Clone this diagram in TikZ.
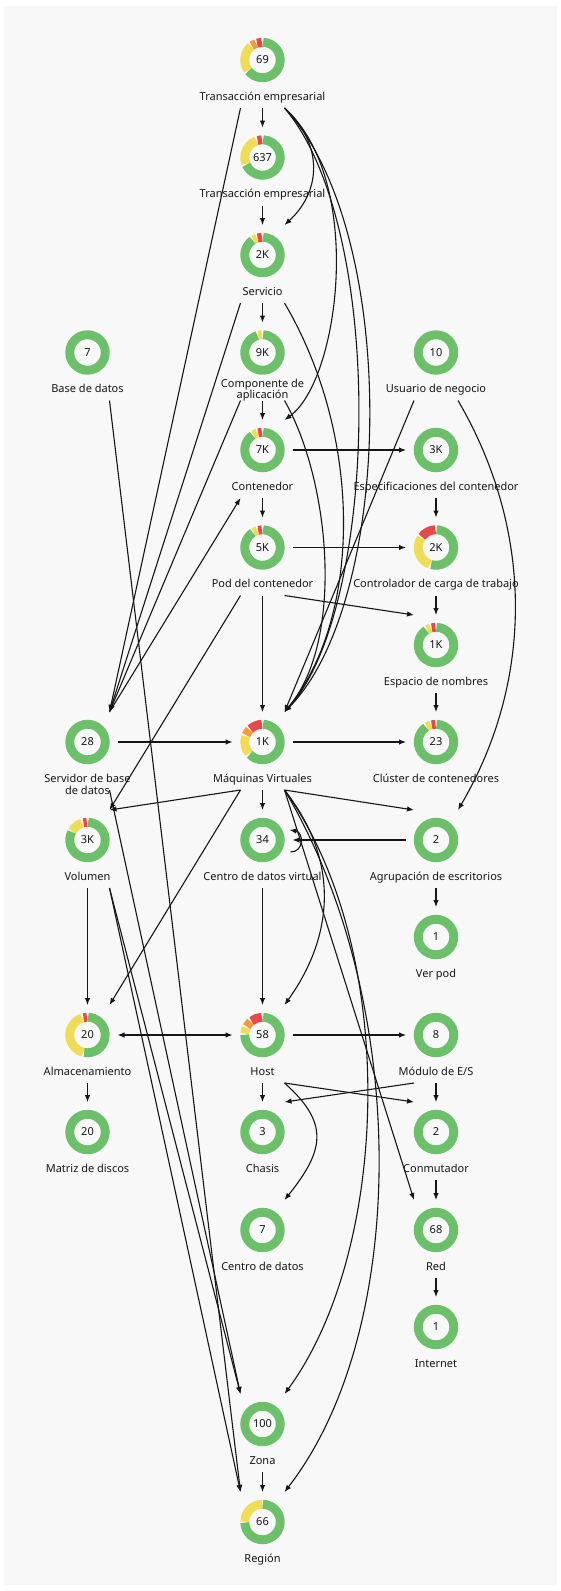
\documentclass[tikz,border=0pt]{standalone}
\usepackage{fontspec}
\setmainfont{Noto Sans}
\usetikzlibrary{arrows.meta}

\definecolor{cgreen}{HTML}{6DC06A}
\definecolor{cyellow}{HTML}{F1DC58}
\definecolor{corange}{HTML}{F59A3C}
\definecolor{cred}{HTML}{E8474B}
\definecolor{panel}{HTML}{F8F8F8}
\definecolor{ink}{HTML}{161616}

\tikzset{
  donut/.style={circle,minimum size=44pt,inner sep=0pt,font=\fontsize{11}{13}\selectfont,text=ink},
  lbl/.style={font=\fontsize{11}{11.5}\selectfont,align=center,anchor=base,inner sep=0pt,text=ink},
  ring/.style={line width=8.9pt},
  arr/.style={->,>={Latex[length=7pt,width=5.5pt]},line width=1.1pt,ink},
}

% one element: donut, label and the ports used by the edges
\newcommand{\donut}[6][]{%
  \node[donut] (#2) at (#3,-#4) {#5};
  \node[lbl,#1] (#2-l) at (#3,-#4-40) {#6};
  \coordinate (#2-n) at (#3,-#4+30);
  \coordinate (#2-nw) at (#3-22,-#4+30);
  \coordinate (#2-ne) at (#3+22,-#4+30);
  \coordinate (#2-s) at (#3,-#4-48);
  \coordinate (#2-sw) at (#3-22,-#4-48);
  \coordinate (#2-se) at (#3+22,-#4-48);
  \coordinate (#2-w) at (#3-30,-#4);
  \coordinate (#2-e) at (#3+30,-#4);
}
\newcommand{\full}[1]{\draw[ring,cgreen] (#1.center) circle[radius=17.75pt];}
\newcommand{\seg}[4]{\draw[ring,#2] (#1.center) ++(#3:17.75pt) arc[start angle=#3,end angle=#4,radius=17.75pt];}

\begin{document}
\begin{tikzpicture}[x=1pt,y=1pt]
  \useasboundingbox (0,0) rectangle (561,-1591);
  \fill[panel] (4,-6) rectangle (557,-1585);

  \donut{t1}{262.5}{60}{69}{Transacción empresarial}
  \donut{t2}{262.5}{157.5}{637}{Transacción empresarial}
  \donut{sv}{262.5}{255}{2K}{Servicio}
  \donut{bd}{87.5}{352.5}{7}{Base de datos}
  \donut[yshift=-6pt]{ca}{262.5}{352.5}{9K}{Componente de\\aplicación}
  \donut{un}{436}{352.5}{10}{Usuario de negocio}
  \donut{co}{262.5}{450}{7K}{Contenedor}
  \donut{ec}{436}{450}{3K}{Especificaciones del contenedor}
  \donut{po}{262.5}{547.5}{5K}{Pod del contenedor}
  \donut{cc}{436}{547.5}{2K}{Controlador de carga de trabajo}
  \donut{en}{436}{645}{1K}{Espacio de nombres}
  \donut[yshift=-12pt]{sb}{87.5}{742}{28}{Servidor de base\\de datos}
  \donut{mv}{262.5}{742}{1K}{Máquinas Virtuales}
  \donut{cl}{436}{742}{23}{Clúster de contenedores}
  \donut{vo}{87.5}{840}{3K}{Volumen}
  \donut{cd}{262.5}{840}{34}{Centro de datos virtual}
  \donut{ae}{436}{840}{2}{Agrupación de escritorios}
  \donut{vp}{436}{937}{1}{Ver pod}
  \donut{al}{87.5}{1035}{20}{Almacenamiento}
  \donut{ho}{262.5}{1035}{58}{Host}
  \donut{me}{436}{1035}{8}{Módulo de E/S}
  \donut{md}{87.5}{1132}{20}{Matriz de discos}
  \donut{ch}{262.5}{1132}{3}{Chasis}
  \donut{cm}{436}{1132}{2}{Conmutador}
  \donut{cdc}{262.5}{1230}{7}{Centro de datos}
  \donut{re}{436}{1230}{68}{Red}
  \donut{inet}{436}{1327}{1}{Internet}
  \donut{zo}{262.5}{1424}{100}{Zona}
  \donut{rg}{262.5}{1522}{66}{Región}

  % rings
  \seg{t1}{cred}{92}{108}\seg{t1}{corange}{111}{127}\seg{t1}{cyellow}{130}{215}\seg{t1}{cgreen}{218}{448}
  \seg{t2}{cred}{92}{106}\seg{t2}{cyellow}{110}{201}\seg{t2}{cgreen}{204}{448}
  \seg{sv}{cred}{92}{106}\seg{sv}{cyellow}{109}{121}\seg{sv}{cgreen}{124}{448}
  \seg{ca}{cyellow}{92}{104}\seg{ca}{cgreen}{107}{448}
  \seg{co}{cred}{92}{104}\seg{co}{cyellow}{107}{121}\seg{co}{cgreen}{124}{448}
  \seg{po}{cred}{92}{104}\seg{po}{cyellow}{107}{120}\seg{po}{cgreen}{123}{448}
  \seg{cc}{cred}{92}{143}\seg{cc}{cyellow}{147}{250}\seg{cc}{cgreen}{254}{448}
  \seg{en}{cred}{92}{104}\seg{en}{cyellow}{107}{120}\seg{en}{cgreen}{123}{448}
  \seg{mv}{cred}{92}{133}\seg{mv}{corange}{137}{157}\seg{mv}{cyellow}{161}{220}\seg{mv}{cgreen}{224}{448}
  \seg{cl}{cred}{92}{104}\seg{cl}{cyellow}{107}{121}\seg{cl}{cgreen}{124}{448}
  \seg{vo}{cred}{92}{103}\seg{vo}{cyellow}{108}{150}\seg{vo}{cgreen}{153}{448}
  \seg{al}{cred}{92}{103}\seg{al}{cyellow}{107}{256}\seg{al}{cgreen}{259}{448}
  \seg{ho}{cred}{92}{128}\seg{ho}{corange}{132}{152}\seg{ho}{cyellow}{156}{175}\seg{ho}{cgreen}{179}{448}
  \seg{rg}{cyellow}{91}{179}\seg{rg}{cgreen}{182}{449}
  \full{bd}\full{un}\full{ec}\full{sb}\full{cd}\full{ae}\full{vp}\full{me}
  \full{md}\full{ch}\full{cm}\full{cdc}\full{re}\full{inet}\full{zo}

  % straight down
  \foreach \a/\b in {t1/t2,t2/sv,sv/ca,ca/co,co/po,po/mv,mv/cd,cd/ho,ho/ch,zo/rg,
                     ec/cc,cc/en,en/cl,ae/vp,me/cm,cm/re,re/inet,vo/al,al/md}
    \draw[arr] (\a-s) -- (\b-n);

  % across
  \draw[arr] (co-e) -- (ec-w);
  \draw[arr] (po-e) -- (cc-w);
  \draw[arr] (sb-e) -- (mv-w);
  \draw[arr] (mv-e) -- (cl-w);
  \draw[arr] (ho-e) -- (me-w);
  \draw[arr] (ae-w) -- (cd-e);
  \draw[arr,<->] (al-e) -- (ho-w);

  % diagonals
  \draw[arr] (t1-sw) -- (sb-ne);
  \draw[arr] (sv-sw) -- (sb-ne);
  \draw[arr] (ca-sw) -- (sb-ne);
  \draw[arr] (sb-ne) -- (co-sw);
  \draw[arr] (po-sw) -- (vo-ne);
  \draw[arr] (mv-sw) -- (vo-ne);
  \draw[arr] (mv-sw) -- (al-ne);
  \draw[arr] (bd-se) -- (rg-nw);
  \draw[arr] (sb-se) -- (zo-nw);
  \draw[arr] (vo-se) -- (zo-nw);
  \draw[arr] (vo-se) -- (rg-nw);
  \draw[arr] (po-se) -- (en-nw);
  \draw[arr] (mv-se) -- (ae-nw);
  \draw[arr] (mv-se) -- (re-nw);
  \draw[arr] (ho-se) -- (cm-nw);
  \draw[arr] (me-sw) -- (ch-ne);
  \draw[arr] (un-sw) -- (mv-ne);

  % curves
  \draw[arr] (t1-se) .. controls +(38,-35) and +(38,35) .. (sv-ne);
  \draw[arr] (t1-se) .. controls (365,-180) and (340,-380) .. (co-ne);
  \draw[arr] (t1-se) .. controls (400,-230) and (395,-600) .. (mv-ne);
  \draw[arr] (t1-se) .. controls (388,-230) and (378,-610) .. (mv-ne);
  \draw[arr] (sv-se) .. controls (365,-440) and (360,-620) .. (mv-ne);
  \draw[arr] (ca-se) .. controls (330,-480) and (345,-640) .. (mv-ne);
  \draw[arr] (un-se) .. controls +(76,-130) and +(76,130) .. (ae-ne);
  \draw[arr] (mv-se) .. controls +(55,-70) and +(50,70) .. (ho-ne);
  \draw[arr] (mv-se) .. controls (400,-950) and (390,-1250) .. (zo-ne);
  \draw[arr] (mv-se) .. controls (410,-1000) and (410,-1330) .. (rg-ne);
  \draw[arr] (ho-se) .. controls +(45,-40) and +(40,50) .. (cdc-ne);
  % loop on the virtual data centre
  \draw[arr] ([shift={(-2,-12)}]cd-e) .. controls +(14,0) and +(14,-2) .. ([shift={(-3,10)}]cd-e);
\end{tikzpicture}
\end{document}
